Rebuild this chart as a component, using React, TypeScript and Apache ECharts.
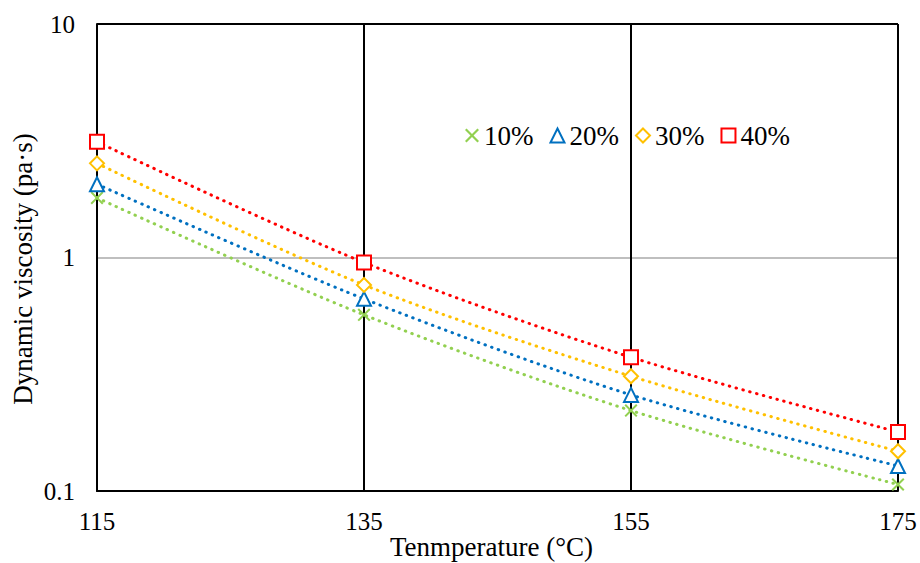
import React, { useEffect, useRef } from "react";
import * as echarts from "echarts";

const temperatures = ["115", "135", "155", "175"];
const seriesNames = ["10%", "20%", "30%", "40%"];
const visc10 = [1.8, 0.568, 0.221, 0.1066];
const visc20 = [2.06, 0.665, 0.258, 0.128];
const visc30 = [2.53, 0.763, 0.31, 0.148];
const visc40 = [3.13, 0.952, 0.374, 0.179];
const yTickLabels: Record<string, string> = { "-1": "0.1", "0": "1", "1": "10" };

const colors = ["#92D050", "#0070C0", "#FFC000", "#FF0000"];
const CROSS = "path://M0,1.1L1.1,0L5,3.9L8.9,0L10,1.1L6.1,5L10,8.9L8.9,10L5,6.1L1.1,10L0,8.9L3.9,5Z";
const symbols = [CROSS, "emptyTriangle", "emptyDiamond", "emptyRect"];
const FONT = "Liberation Serif";
const FS = 25;
const FS_BIG = 27;

export default function App() {
  const ref = useRef<HTMLDivElement>(null);
  useEffect(() => {
    document.body.style.margin = "0";
    const chart = echarts.init(ref.current!, null, { renderer: "svg" });
    const dataSets = [visc10, visc20, visc30, visc40];
    const txt = { fontFamily: FONT, fontSize: FS, color: "#000" };
    const big = { fontFamily: FONT, fontSize: FS_BIG, color: "#000" };
    chart.setOption({
      animation: false,
      backgroundColor: "#fff",
      textStyle: { fontFamily: FONT },
      grid: { left: 97, right: 22, top: 24, bottom: 72, containLabel: false, outerBoundsMode: "none" },
      legend: {
        left: 465,
        top: 122,
        padding: 0,
        itemWidth: 14,
        itemHeight: 14,
        itemGap: 16,
        textStyle: big,
        data: seriesNames.map((n, i) => ({ name: n, icon: symbols[i] })),
      },
      xAxis: {
        type: "category",
        data: temperatures,
        boundaryGap: false,
        name: "Tenmperature (°C)",
        nameLocation: "middle",
        nameMoveOverlap: false,
        nameGap: 42,
        nameTextStyle: { ...big, padding: [0, 12, 0, 0] },
        axisLine: { lineStyle: { color: "#000", width: 2 } },
        axisTick: { show: false },
        axisLabel: { ...txt, margin: 18 },
        splitLine: { show: true, interval: 0, lineStyle: { color: "#000", width: 2 } },
      },
      yAxis: {
        type: "log",
        logBase: 10,
        min: 0.1,
        max: 10,
        name: "Dynamic viscosity (pa·s)",
        nameLocation: "middle",
        nameMoveOverlap: false,
        nameGap: 61,
        nameTextStyle: { ...big, padding: [0, 23, 0, 0] },
        axisLine: { show: true, lineStyle: { color: "#000", width: 2 } },
        axisTick: { show: false },
        minorTick: { show: false },
        axisLabel: {
          ...txt,
          margin: 22,
          formatter: (v: number) => yTickLabels[String(Math.round(Math.log10(v)))] ?? "",
        },
        splitLine: { show: true, lineStyle: { color: ["#000", "#BFBFBF", "#000"], width: 2 } },
      },
      series: dataSets.map((d, i) => ({
        name: seriesNames[i],
        type: "line",
        data: d,
        smooth: 0.3,
        symbol: symbols[i],
        symbolSize: i === 0 ? 13 : 14,
        showAllSymbol: true,
        z: 2 + i,
        lineStyle: { color: colors[i], width: 3, type: [0.5, 6.5], cap: "round" },
        itemStyle: i === 0
          ? { color: colors[i], borderWidth: 0 }
          : { color: colors[i], borderColor: colors[i], borderWidth: 1.8 },
      })),
    });
    return () => chart.dispose();
  }, []);
  return <div ref={ref} style={{ width: 920, height: 563 }} />;
}
